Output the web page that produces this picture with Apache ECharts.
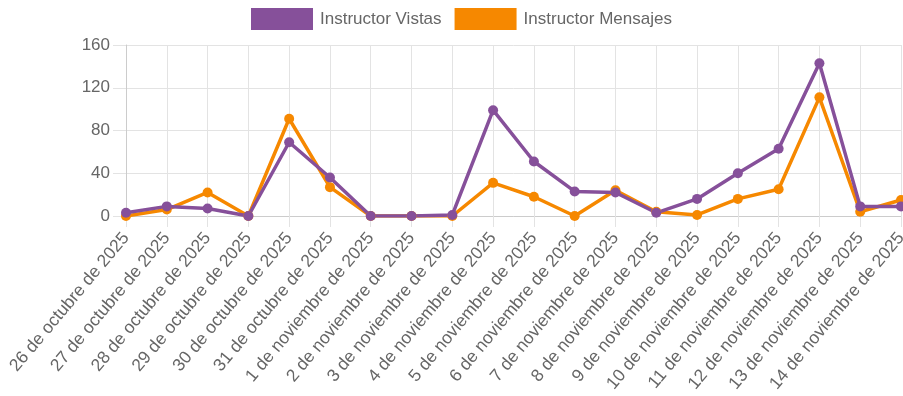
<!DOCTYPE html>
<html>
<head>
<meta charset="utf-8">
<style>
  html, body { margin: 0; padding: 0; background: #fff; }
  #chart { width: 903px; height: 396px; }
</style>
<script src="https://cdn.jsdelivr.net/npm/echarts@6/dist/echarts.min.js"></script>
</head>
<body>
<div id="chart"></div>
<script>
// Daily dates shown on the category axis
const fechas = [
  '26 de octubre de 2025', '27 de octubre de 2025', '28 de octubre de 2025',
  '29 de octubre de 2025', '30 de octubre de 2025', '31 de octubre de 2025',
  '1 de noviembre de 2025', '2 de noviembre de 2025', '3 de noviembre de 2025',
  '4 de noviembre de 2025', '5 de noviembre de 2025', '6 de noviembre de 2025',
  '7 de noviembre de 2025', '8 de noviembre de 2025', '9 de noviembre de 2025',
  '10 de noviembre de 2025', '11 de noviembre de 2025', '12 de noviembre de 2025',
  '13 de noviembre de 2025', '14 de noviembre de 2025'
];

// Instructor profile views per day
const vistas = [3, 9, 7, 0, 69, 36, 0, 0, 1, 99, 51, 23, 22, 3, 16, 40, 63, 143, 9, 9];

// Instructor messages per day
const mensajes = [0, 6, 22, 0, 91, 27, 0, 0, 0, 31, 18, 0, 24, 4, 1, 16, 25, 111, 4, 15];

const nombreVistas = 'Instructor Vistas';
const nombreMensajes = 'Instructor Mensajes';

const colorVistas = '#86509a';
const colorMensajes = '#f68800';
const textoGris = '#666666';
const rejilla = '#e3e3e3';
const fuente = '"Liberation Sans", Arial, sans-serif';

const chart = echarts.init(document.getElementById('chart'), null, { renderer: 'canvas' });

function serie(nombre, datos, color) {
  return {
    name: nombre,
    type: 'line',
    data: datos,
    symbol: 'circle',
    symbolSize: 10,
    showSymbol: true,
    lineStyle: { width: 3.5, color: color },
    itemStyle: { color: color },
    emphasis: { disabled: true },
    animation: false,
    z: 3
  };
}

chart.setOption({
  animation: false,
  textStyle: { fontFamily: fuente },
  legend: {
    left: 246,
    top: 3,
    itemWidth: 62,
    itemHeight: 22,
    itemGap: 13,
    icon: 'rect',
    textStyle: { color: textoGris, fontSize: 17, fontFamily: fuente, padding: [0, 0, 0, 2] },
    data: [nombreVistas, nombreMensajes]
  },
  grid: {
    left: 126, right: 2, top: 45, bottom: 180,
    containLabel: false,
    outerBoundsMode: 'none'
  },
  xAxis: {
    type: 'category',
    data: fechas,
    boundaryGap: false,
    axisLine: { show: true, lineStyle: { color: '#cccccc', width: 1 } },
    axisTick: { show: true, length: 11, alignWithLabel: true, lineStyle: { color: rejilla } },
    splitLine: { show: true, lineStyle: { color: rejilla, width: 1 } },
    axisLabel: {
      interval: 0,
      rotate: 50,
      margin: 19,
      color: textoGris,
      fontSize: 17.5,
      fontFamily: fuente
    }
  },
  yAxis: {
    type: 'value',
    min: 0,
    max: 160,
    interval: 40,
    axisLine: { show: true, lineStyle: { color: '#cccccc', width: 1 } },
    axisTick: { show: true, length: 13, lineStyle: { color: rejilla } },
    splitLine: { show: true, lineStyle: { color: rejilla, width: 1 } },
    axisLabel: { color: textoGris, fontSize: 17, fontFamily: fuente, margin: 16 }
  },
  series: [
    serie(nombreMensajes, mensajes, colorMensajes),
    serie(nombreVistas, vistas, colorVistas)
  ]
});
</script>
</body>
</html>
